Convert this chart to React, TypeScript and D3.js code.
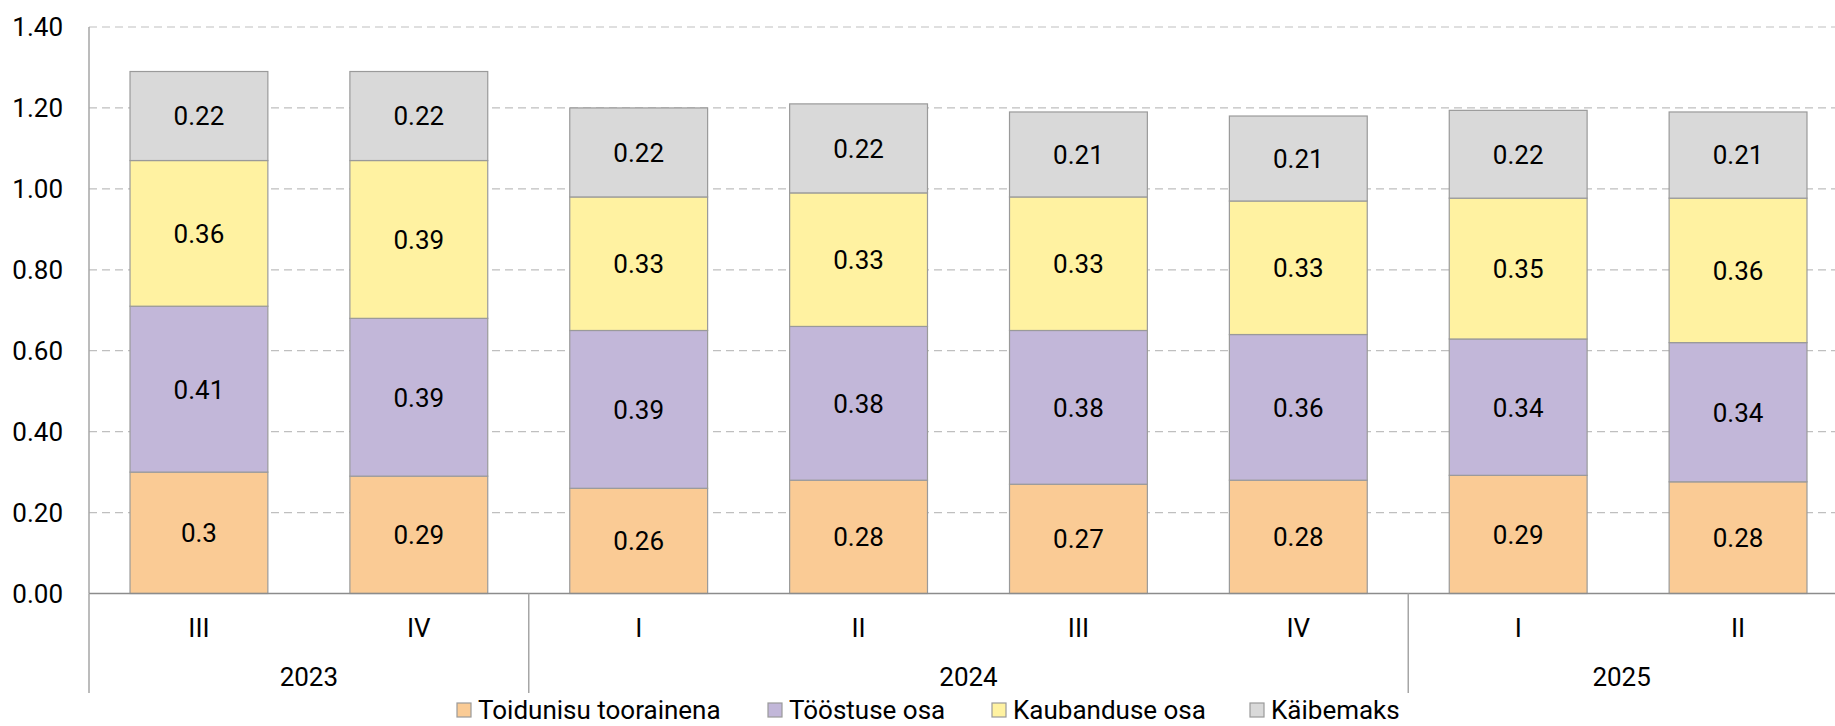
import { useRef, useEffect } from "react";
import * as d3 from "d3";

// quarters and years on the two-level x axis
const quarters = ["III", "IV", "I", "II", "III", "IV", "I", "II"];
const years = ["2023", "2024", "2025"];
const yearSpans = [2, 4, 2]; // how many quarters each year covers

// series values
const food = [0.3, 0.29, 0.26, 0.28, 0.27, 0.28, 0.292, 0.276];
const industry = [0.41, 0.39, 0.39, 0.38, 0.38, 0.36, 0.337, 0.344];
const trade = [0.36, 0.39, 0.33, 0.33, 0.33, 0.33, 0.348, 0.357];
const vat = [0.22, 0.22, 0.22, 0.22, 0.21, 0.21, 0.217, 0.213];

const seriesNames = ["Toidunisu toorainena", "Tööstuse osa", "Kaubanduse osa", "Käibemaks"];
const seriesColors = ["#FACB95", "#C2B7D9", "#FFF2A1", "#D9D9D9"];
const yTicks = [0, 0.2, 0.4, 0.6, 0.8, 1.0, 1.2, 1.4];

const App = () => {
  const svgRef = useRef<SVGSVGElement>(null);

  useEffect(() => {
    const w = 1835;
    const h = 726;
    const left = 89;
    const right = 1848;
    const top = 27;
    const bottom = 593.5;
    const font = "Roboto, 'Noto Sans', sans-serif";
    const fs = 26;

    const svg = d3.select(svgRef.current).attr("width", w).attr("height", h);
    svg.selectAll("*").remove();

    const keys = quarters.map((_, i) => String(i));
    const x = d3.scaleBand().domain(keys).range([left, right]).paddingInner(0.373).paddingOuter(0.1865);
    const y = d3.scaleLinear().domain([0, 1.4]).range([bottom, top]);

    // grid lines
    svg
      .append("g")
      .selectAll("line")
      .data(yTicks.slice(1))
      .join("line")
      .attr("x1", left)
      .attr("x2", w)
      .attr("y1", (d) => y(d))
      .attr("y2", (d) => y(d))
      .attr("stroke", "#BFBFBF")
      .attr("stroke-width", 1.2)
      .attr("stroke-dasharray", "8 5");

    // y axis labels
    svg
      .append("g")
      .selectAll("text")
      .data(yTicks)
      .join("text")
      .attr("x", 63)
      .attr("y", (d) => y(d))
      .attr("dy", "0.36em")
      .attr("text-anchor", "end")
      .attr("font-family", font)
      .attr("font-size", fs)
      .attr("fill", "#000")
      .text((d) => d.toFixed(2));

    // stacked bars
    const table = quarters.map((_, i) => ({
      key: String(i),
      s0: food[i],
      s1: industry[i],
      s2: trade[i],
      s3: vat[i],
    }));
    const stack = d3.stack<any>().keys(["s0", "s1", "s2", "s3"])(table);

    const layers = svg
      .append("g")
      .selectAll("g")
      .data(stack)
      .join("g")
      .attr("fill", (_, i) => seriesColors[i]);

    layers
      .selectAll("rect")
      .data((d) => d)
      .join("rect")
      .attr("x", (d: any) => x(d.data.key)!)
      .attr("width", x.bandwidth())
      .attr("y", (d) => y(d[1]))
      .attr("height", (d) => y(d[0]) - y(d[1]))
      .attr("stroke", "#9A9A9A")
      .attr("stroke-width", 1.2);

    layers
      .selectAll("text")
      .data((d) => d)
      .join("text")
      .attr("x", (d: any) => x(d.data.key)! + x.bandwidth() / 2)
      .attr("y", (d) => (y(d[0]) + y(d[1])) / 2)
      .attr("dy", "0.36em")
      .attr("text-anchor", "middle")
      .attr("font-family", font)
      .attr("font-size", fs)
      .attr("fill", "#000")
      .text((d) => String(+(d[1] - d[0]).toFixed(2)));

    // axes lines
    svg
      .append("line")
      .attr("x1", left)
      .attr("x2", left)
      .attr("y1", top)
      .attr("y2", bottom)
      .attr("stroke", "#A6A6A6")
      .attr("stroke-width", 1.5);
    svg
      .append("line")
      .attr("x1", left)
      .attr("x2", w)
      .attr("y1", bottom)
      .attr("y2", bottom)
      .attr("stroke", "#8C8C8C")
      .attr("stroke-width", 1.5);

    // quarter labels
    svg
      .append("g")
      .selectAll("text")
      .data(quarters)
      .join("text")
      .attr("x", (_, i) => x(String(i))! + x.bandwidth() / 2)
      .attr("y", 628)
      .attr("dy", "0.36em")
      .attr("text-anchor", "middle")
      .attr("font-family", font)
      .attr("font-size", fs)
      .text((d) => d);

    // year groups with separators
    const step = x.step();
    let start = 0;
    const groups = years.map((yr, i) => {
      const g = { yr, x0: left + start * step, x1: left + (start + yearSpans[i]) * step };
      start += yearSpans[i];
      return g;
    });
    svg
      .append("g")
      .selectAll("line")
      .data(groups)
      .join("line")
      .attr("x1", (d) => d.x0)
      .attr("x2", (d) => d.x0)
      .attr("y1", bottom)
      .attr("y2", 693)
      .attr("stroke", "#A6A6A6")
      .attr("stroke-width", 1.5);
    svg
      .append("g")
      .selectAll("text")
      .data(groups)
      .join("text")
      .attr("x", (d) => (d.x0 + Math.min(d.x1, w)) / 2)
      .attr("y", 677)
      .attr("dy", "0.36em")
      .attr("text-anchor", "middle")
      .attr("font-family", font)
      .attr("font-size", fs)
      .text((d) => d.yr);

    // legend
    const legendX = [457, 768, 992, 1250];
    const legend = svg
      .append("g")
      .selectAll("g")
      .data(seriesNames)
      .join("g")
      .attr("transform", (_, i) => `translate(${legendX[i]},710)`);
    legend
      .append("rect")
      .attr("x", 0)
      .attr("y", -7)
      .attr("width", 14)
      .attr("height", 14)
      .attr("fill", (_, i) => seriesColors[i])
      .attr("stroke", "#9A9A9A")
      .attr("stroke-width", 1.2);
    legend
      .append("text")
      .attr("x", 21)
      .attr("dy", "0.36em")
      .attr("font-family", font)
      .attr("font-size", 26)
      .text((d) => d);
  }, []);

  return <svg ref={svgRef} style={{ position: "absolute", left: 0, top: 0, display: "block" }}></svg>;
};

export default App;
